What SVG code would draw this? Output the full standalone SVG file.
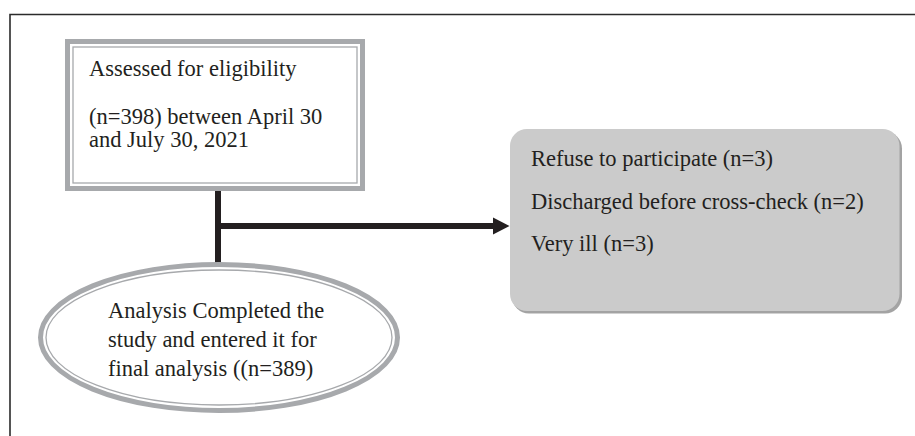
<svg xmlns="http://www.w3.org/2000/svg" width="915" height="436" viewBox="0 0 915 436">
<defs>
<style>
text{font-family:"Liberation Serif","Times New Roman",serif;font-size:22.5px;fill:#231f20}
.frame{stroke:#2b2b2b;stroke-width:1.6;fill:none}
.outer{fill:none;stroke:#a7a9ac;stroke-width:5}
.inner{fill:none;stroke:#a7a9ac;stroke-width:1.3}
.conn{stroke:#231f20;stroke-width:6;fill:none}
.head{fill:#231f20}
</style>
</defs>
<rect width="915" height="436" fill="#fff"/>
<path class="frame" d="M10,436 V14.5 H915"/>
<g id="connectors">
<line class="conn" x1="218" y1="189" x2="218" y2="263"/>
<line class="conn" x1="218" y1="226" x2="495" y2="226"/>
<path class="head" d="M493,217.5 L509.5,226 L493,234.5 Z"/>
</g>
<g id="assessed">
<rect class="outer" x="67.5" y="41.5" width="295" height="147" fill="#fff"/>
<rect class="inner" x="73" y="47" width="284" height="136"/>
<text x="89" y="76">Assessed for eligibility</text>
<text x="89" y="124">(n=398) between April 30</text>
<text x="89" y="147">and July 30, 2021</text>
</g>
<g id="excluded">
<rect x="512" y="131.5" width="390" height="182" rx="17" fill="#a3a3a3"/>
<rect x="510" y="129" width="389.5" height="182" rx="17" fill="#cbcbcb"/>
<text x="531" y="166">Refuse to participate (n=3)</text>
<text x="531" y="208.5">Discharged before cross-check (n=2)</text>
<text x="531" y="251">Very ill (n=3)</text>
</g>
<g id="analysis">
<ellipse class="outer" cx="219" cy="337.5" rx="178.5" ry="73" fill="#fff"/>
<ellipse class="inner" cx="219" cy="337.5" rx="173" ry="67.5"/>
<text x="108" y="318">Analysis Completed the</text>
<text x="108" y="347">study and entered it for</text>
<text x="108" y="376">final analysis ((n=389)</text>
</g>
</svg>
